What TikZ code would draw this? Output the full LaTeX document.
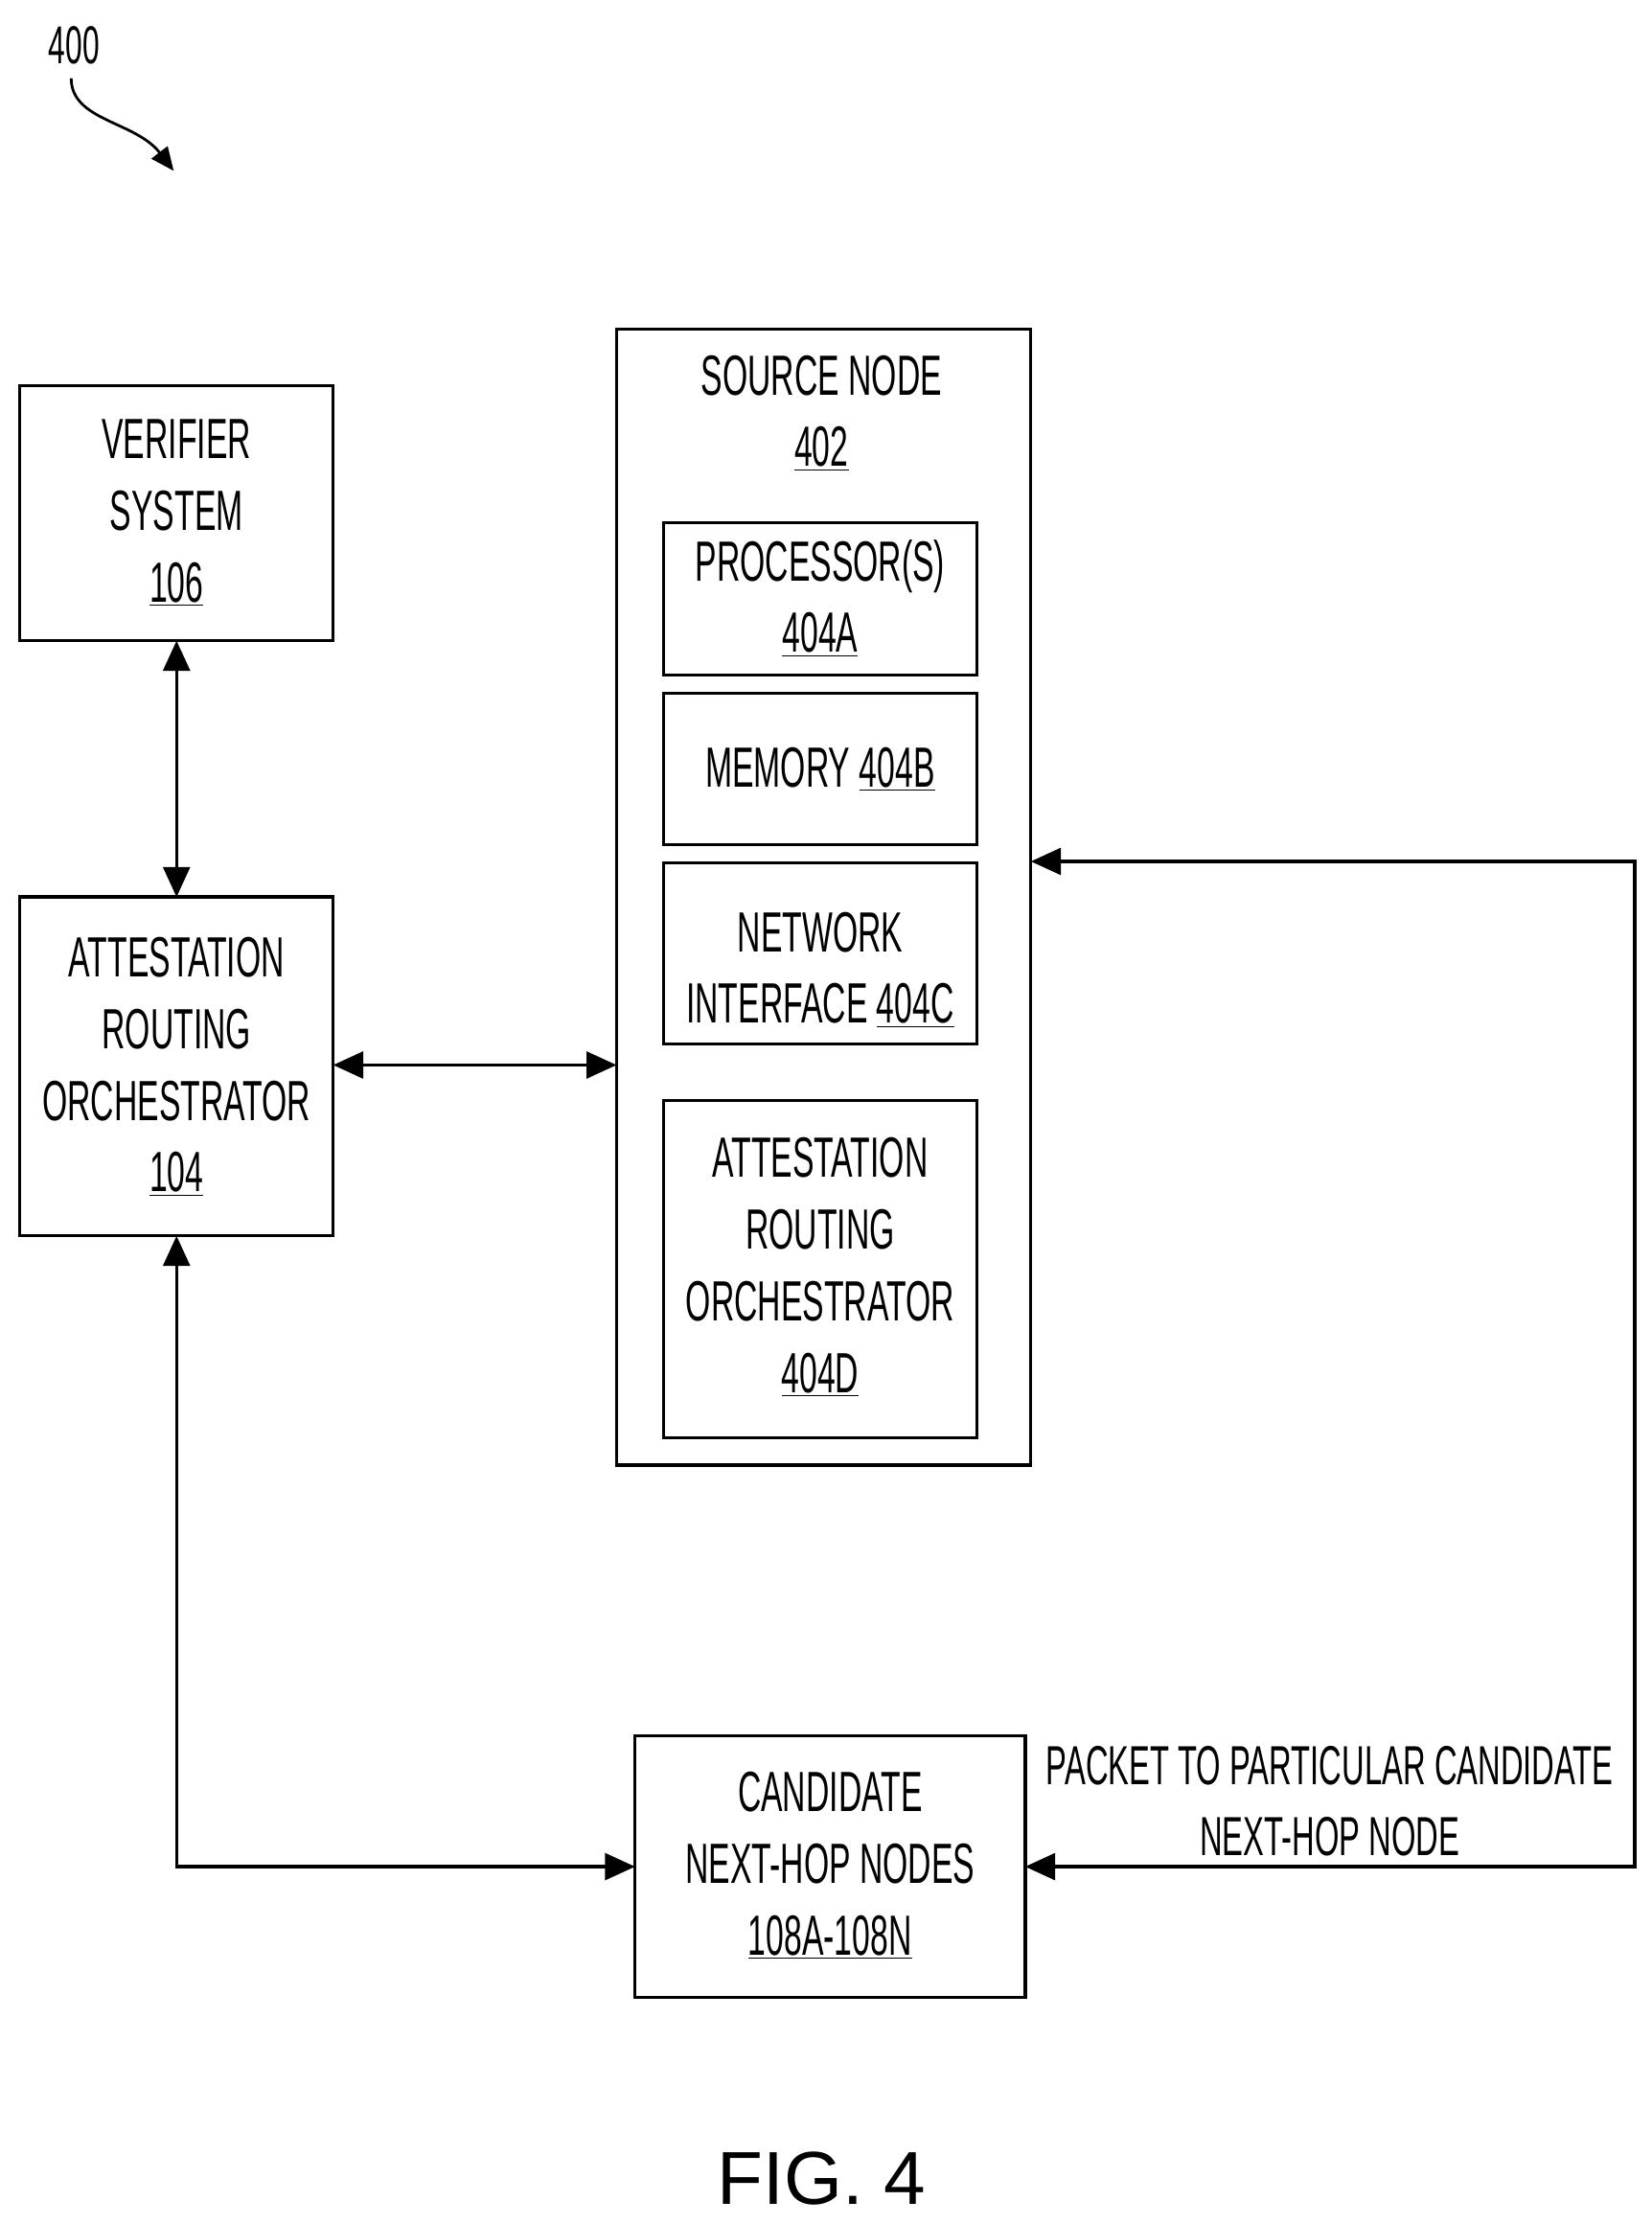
\documentclass[tikz,border=0pt]{standalone}
\usepackage{fontspec}
\setmainfont{Liberation Sans}[FakeStretch=0.57]
\newfontfamily\figfont{Liberation Sans}
\usetikzlibrary{arrows.meta,decorations.pathmorphing}
\begin{document}
\begin{tikzpicture}[x=0.03cm,y=-0.03cm,
  box/.style={draw,line width=1.9pt},
  txt/.style={align=center,font=\fontsize{34}{43}\selectfont},
  arr/.style={line width=1.9pt,{Triangle[length=18pt,width=16pt]}-{Triangle[length=18pt,width=16pt]}}]
\useasboundingbox (0,0) rectangle (1160,1562);
\draw[box] (14,271) rectangle (234,450);
\node[txt] (ver) at (124,360) {VERIFIER\\SYSTEM\\\underline{106}};
\draw[box] (14,630) rectangle (234,868);
\node[txt] (aro) at (124,749) {ATTESTATION\\ROUTING\\ORCHESTRATOR\\\underline{104}};
\draw[box] (433,231) rectangle (724,1029);
\node[txt] (src) at (577,290) {SOURCE NODE\\\underline{402}};
\draw[box] (466,367) rectangle (686,474);
\node[txt] (proc) at (576,420) {PROCESSOR(S)\\\underline{404A}};
\draw[box] (466,487) rectangle (686,593);
\node[txt] (mem) at (576,540) {MEMORY \underline{404B}};
\draw[box] (466,606) rectangle (686,733);
\node[txt] (net) at (576,681) {NETWORK\\INTERFACE \underline{404C}};
\draw[box] (466,773) rectangle (686,1010);
\node[txt] (aro2) at (576,890) {ATTESTATION\\ROUTING\\ORCHESTRATOR\\\underline{404D}};
\draw[box] (446,1219) rectangle (720,1403);
\node[txt] (cand) at (583,1310) {CANDIDATE\\NEXT-HOP NODES\\\underline{108A-108N}};
\node[txt,font=\fontsize{33}{43}\selectfont] (pkt) at (934,1265) {PACKET TO PARTICULAR CANDIDATE\\NEXT-HOP NODE};
\coordinate (a1) at (124,450); \coordinate (a2) at (124,630);
\draw[arr] (a1) -- (a2);
\coordinate (b1) at (234,748); \coordinate (b2) at (433,748);
\draw[arr] (b1) -- (b2);
\coordinate (c1) at (124,868); \coordinate (c2) at (446,1311);
\draw[arr] (c1) |- (c2);
\coordinate (d1) at (720,1311); \coordinate (d2) at (1148,605); \coordinate (d3) at (724,605);
\draw[arr] (d1) -| (d2) -- (d3);
\node[txt,font=\fontsize{32}{36}\selectfont] (n400) at (52,32) {400};
\coordinate (s1) at (50,55); \coordinate (s2) at (122,120);
\draw[line width=1.6pt,-{Triangle[length=14pt,width=12pt]}] (s1) .. controls (50,85) and (95,85) .. (s2);
\node[font=\figfont\fontsize{45}{54}\selectfont] (fig) at (577,1530) {FIG. 4};
\end{tikzpicture}
\end{document}
